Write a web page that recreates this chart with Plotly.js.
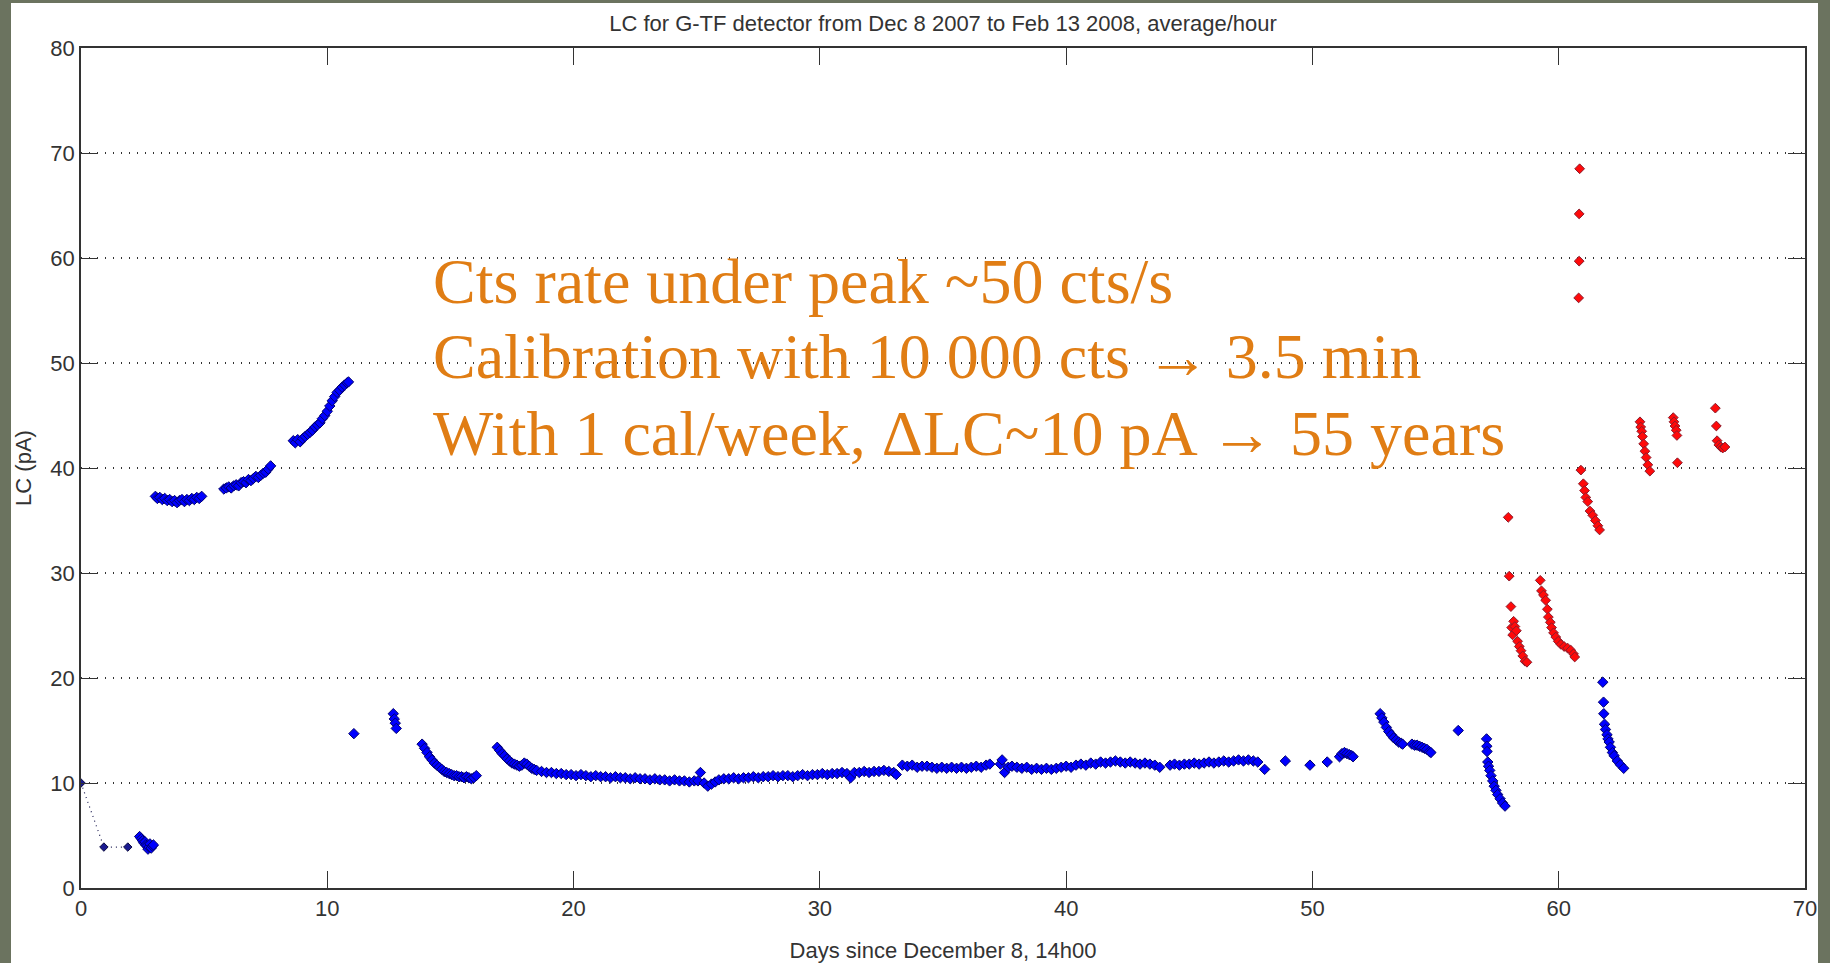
<!DOCTYPE html>
<html>
<head>
<meta charset="utf-8">
<script src="https://cdn.plot.ly/plotly-3.0.1.min.js"></script>
<style>
  html, body { margin:0; padding:0; width:1830px; height:963px; overflow:hidden; background:#6b735f; }
  #chart { position:absolute; left:11px; top:3px; width:1807px; height:960px; background:#fff; }
</style>
</head>
<body>
<div id="chart"></div>
<script>
// ---------- text ----------
const chartTitle = "LC for G-TF detector from Dec 8 2007 to Feb 13 2008, average/hour";
const xAxisTitle = "Days since December 8, 14h00";
const yAxisTitle = "LC (pA)";
const noteLines = [
  "Cts rate under peak ~50 cts/s",
  "Calibration with 10 000 cts \u2192 3.5 min",
  "With 1 cal/week, \u0394LC~10 pA \u2192 55 years"
];
const xTicks = [0, 10, 20, 30, 40, 50, 60, 70];
const yTicks = [0, 10, 20, 30, 40, 50, 60, 70, 80];

// ---------- early daily values (dotted) ----------
const earlyX = [0, 0.93, 1.9];
const earlyY = [10.0, 3.9, 3.9];

// ---------- blue: hourly averages ----------
const segB_x = [2.38,2.45,2.5,2.55,2.6,2.63,2.67,2.72,2.76,2.8,2.85,2.9,2.94];
const segB_y = [4.9,4.7,4.5,4.3,4.4,4.1,4.0,3.7,3.9,4.2,3.8,4.0,4.1];

const segC_x = [3.02,3.1,3.2,3.3,3.4,3.5,3.6,3.7,3.8,3.9,4.0,4.1,4.2,4.3,4.4,4.5,4.6,4.7,4.8,4.9];
const segC_y = [37.3,37.1,37.2,37.0,37.1,36.9,37.0,36.8,36.9,36.7,36.9,37.0,36.8,37.0,36.9,37.1,37.0,37.2,37.1,37.3];

const segD_x = [5.8,5.9,6.0,6.1,6.2,6.3,6.4,6.5,6.6,6.7,6.8,6.9,7.0,7.1,7.2,7.3,7.4,7.5,7.6,7.7];
const segD_y = [38.0,38.1,38.2,38.1,38.3,38.4,38.3,38.6,38.7,38.6,38.9,38.8,39.0,39.2,39.1,39.3,39.5,39.6,39.9,40.2];

const segE_x = [8.62,8.7,8.8,8.9,9.0,9.1,9.2,9.3,9.4,9.5,9.6,9.7,9.8,9.9,10.0,10.1,10.2,10.3,10.4,10.5,10.6,10.7,10.8,10.86];
const segE_y = [42.6,42.4,42.7,42.5,42.8,43.0,43.2,43.4,43.6,43.9,44.1,44.3,44.7,45.0,45.4,45.9,46.4,46.8,47.2,47.4,47.7,47.9,48.1,48.2];

const segF_x = [11.08, 12.68, 12.72, 12.76, 12.8];
const segF_y = [14.7, 16.6, 16.1, 15.7, 15.2];

const segH_x = [13.85,13.95,14.05,14.15,14.25,14.35,14.45,14.55,14.65,14.75,14.85,14.95,15.05,15.15,15.25,15.35,15.45,15.55,15.65,15.75,15.85,15.95,16.05];
const segH_y = [13.7,13.3,12.9,12.5,12.2,11.9,11.7,11.5,11.3,11.1,11.0,10.9,10.8,10.7,10.7,10.6,10.6,10.5,10.6,10.5,10.4,10.5,10.7];

const segI_x = [16.9,17.0,17.1,17.2,17.3,17.4,17.5,17.6,17.7,17.8,17.9,18.0,18.1,18.2,18.3,18.4,18.5,18.7,18.9,19.1,
  19.3,19.5,19.7,19.9,20.1,20.3,20.5,20.7,20.9,21.1,21.3,21.5,21.7,21.9,22.1,22.3,22.5,22.7,22.9,23.1,
  23.3,23.5,23.7,23.9,24.1,24.3,24.5,24.7,24.9,25.05,25.15,25.3,25.45,25.6,25.75,25.9,26.1,26.3,26.5,26.7,
  26.9,27.1,27.3,27.5,27.7,27.9,28.1,28.3,28.5,28.7,28.9,29.1,29.3,29.5,29.7,29.9,30.1,30.3,30.5,30.7,
  30.9,31.1,31.25,31.4,31.6,31.8,32.0,32.2,32.4,32.6,32.8,33.0,33.1];
const segI_y = [13.4,13.1,12.8,12.6,12.3,12.1,11.9,11.8,11.7,11.6,11.7,11.9,11.8,11.6,11.4,11.3,11.2,11.1,11.0,11.0,
  10.9,10.9,10.8,10.8,10.7,10.8,10.7,10.6,10.7,10.6,10.6,10.5,10.6,10.5,10.5,10.4,10.5,10.4,10.4,10.3,
  10.4,10.3,10.3,10.2,10.3,10.2,10.2,10.1,10.2,10.2,11.0,10.0,9.7,9.9,10.1,10.3,10.4,10.4,10.5,10.4,
  10.5,10.5,10.6,10.5,10.6,10.6,10.7,10.6,10.7,10.7,10.6,10.7,10.8,10.7,10.8,10.8,10.9,10.8,10.9,10.9,
  11.0,10.9,10.5,11.0,11.0,11.1,11.0,11.1,11.1,11.2,11.1,11.0,10.8];

const segJ_x = [33.35,33.55,33.75,33.95,34.15,34.35,34.55,34.75,34.95,35.15,35.35,35.55,35.75,35.95,36.15,36.35,36.55,36.75,36.9];
const segJ_y = [11.7,11.6,11.7,11.5,11.6,11.6,11.5,11.4,11.5,11.4,11.5,11.4,11.5,11.4,11.5,11.6,11.5,11.7,11.8];

const segK_x = [37.33,37.4,37.5,37.65,37.8,38.0,38.2,38.4,38.6,38.8,39.0,39.2,39.4,39.6,39.8,40.0,40.2,40.4,40.6,40.8,
  41.0,41.2,41.4,41.6,41.8,42.0,42.2,42.4,42.6,42.8,43.0,43.2,43.4,43.6,43.8];
const segK_y = [11.8,12.2,11.0,11.5,11.6,11.5,11.4,11.5,11.3,11.4,11.3,11.4,11.3,11.4,11.5,11.6,11.5,11.7,11.8,11.7,
  11.9,11.8,12.0,11.9,12.0,12.1,12.0,11.9,12.0,11.9,11.8,11.9,11.8,11.7,11.5];

const segL_x = [44.22,44.4,44.6,44.8,45.0,45.2,45.4,45.6,45.8,46.0,46.2,46.4,46.6,46.8,47.0,47.2,47.4,47.6,47.78];
const segL_y = [11.7,11.8,11.7,11.8,11.8,11.9,11.8,11.9,12.0,11.9,12.0,12.1,12.0,12.1,12.2,12.1,12.2,12.1,12.0];

const segM_x = [48.06,48.9,49.9,50.6,51.1,51.2,51.3,51.4,51.5,51.6,51.65];
const segM_y = [11.3,12.1,11.7,12.0,12.5,12.8,12.9,12.8,12.7,12.6,12.5];

const segO_x = [52.75,52.82,52.9,53.0,53.1,53.2,53.3,53.4,53.5,53.6,53.66,54.04,54.15,54.25,54.35,54.45,54.55,54.65,54.75,54.81,55.92];
const segO_y = [16.6,16.2,15.8,15.3,14.9,14.6,14.3,14.1,13.9,13.8,13.7,13.7,13.6,13.6,13.5,13.4,13.3,13.2,13.0,12.9,15.0];

const segR_x = [57.07,57.08,57.09,57.12,57.15,57.2,57.25,57.32,57.38,57.45,57.52,57.62,57.72,57.82];
const segR_y = [14.2,13.5,13.0,12.0,11.6,11.2,10.7,10.2,9.7,9.3,8.9,8.5,8.1,7.8];

const segS_x = [61.79,61.82,61.83,61.86,61.9,61.96,62.0,62.05,62.1,62.18,62.25,62.38,62.5,62.64];
const segS_y = [19.6,17.7,16.6,15.6,15.1,14.6,14.2,13.9,13.4,12.9,12.6,12.1,11.75,11.4];

// ---------- red: after the change ----------
const red1_x = [57.95,57.99,58.06,58.09,58.13,58.17,58.22,58.28,58.33,58.4,58.47,58.54,58.63,58.71];
const red1_y = [35.3,29.7,26.8,24.8,24.1,25.4,24.9,24.5,23.5,23.0,22.6,22.1,21.6,21.5];
const red2_x = [59.25,59.3,59.38,59.47,59.54,59.58,59.66,59.71,59.79,59.88,59.98,60.09,60.22,60.36,60.49,60.6,60.65];
const red2_y = [29.3,28.3,27.9,27.4,26.55,25.8,25.3,24.8,24.3,23.9,23.5,23.2,23.0,22.85,22.65,22.3,22.0];
const red3_x = [60.85,60.83,60.83,60.81];
const red3_y = [68.5,64.2,59.7,56.2];
const red4_x = [60.9,61.0,61.05,61.1,61.18,61.27,61.38,61.49,61.59,61.66];
const red4_y = [39.8,38.5,37.85,37.2,36.8,35.9,35.5,35.0,34.5,34.1];
const red5_x = [63.3,63.33,63.37,63.4,63.45,63.5,63.55,63.62,63.7];
const red5_y = [44.4,43.9,43.5,43.0,42.3,41.6,41.0,40.3,39.7];
const red6_x = [64.65,64.68,64.72,64.77,64.8,64.82];
const red6_y = [44.8,44.4,44.0,43.6,43.1,40.5];
const red7_x = [66.36,66.4,66.43,66.5,66.58,66.66,66.75];
const red7_y = [45.7,44.0,42.6,42.2,42.0,41.9,42.0];

// ---------- build traces ----------
const blueX = [].concat(segB_x, segC_x, segD_x, segE_x, segF_x, segH_x, segI_x, segJ_x, segK_x, segL_x, segM_x, segO_x, segR_x, segS_x);
const blueY = [].concat(segB_y, segC_y, segD_y, segE_y, segF_y, segH_y, segI_y, segJ_y, segK_y, segL_y, segM_y, segO_y, segR_y, segS_y);
const redX = [].concat(red1_x, red2_x, red3_x, red4_x, red5_x, red6_x, red7_x);
const redY = [].concat(red1_y, red2_y, red3_y, red4_y, red5_y, red6_y, red7_y);

const sansFont = 'Liberation Sans, Arial, Helvetica, sans-serif';

const traces = [
  {
    x: earlyX, y: earlyY, type: 'scatter', mode: 'lines+markers',
    line: { color: '#1a1a50', width: 1.2, dash: '1px,4px' },
    marker: { symbol: 'diamond', size: 6.5, color: '#1a1a90', line: { color: '#0a0a40', width: 1 } },
    hoverinfo: 'x+y'
  },
  {
    x: blueX, y: blueY, type: 'scatter', mode: 'markers',
    marker: { symbol: 'diamond', size: 8, color: '#0000ff', line: { color: '#00006e', width: 1 } },
    hoverinfo: 'x+y'
  },
  {
    x: redX, y: redY, type: 'scatter', mode: 'markers',
    marker: { symbol: 'diamond', size: 7.5, color: '#ff0a0a', line: { color: '#8a1c2c', width: 1 } },
    hoverinfo: 'x+y'
  }
];

const noteY = [57.8, 50.6, 43.3];
const annotations = noteLines.map((t, i) => ({
  x: 14.22, y: noteY[i], xref: 'x', yref: 'y',
  xanchor: 'left', yanchor: 'middle', showarrow: false,
  text: t,
  font: { family: 'Liberation Serif, Times New Roman, serif', size: 64, color: '#e07d14' }
}));

const axisCommon = {
  ticks: 'inside', ticklen: 17, tickwidth: 1, tickcolor: '#333',
  showline: true, linecolor: '#333', linewidth: 1.5, mirror: 'ticks',
  zeroline: false, automargin: false,
  tickfont: { family: sansFont, size: 22, color: '#333' },
  fixedrange: true
};

const layout = {
  width: 1807, height: 960,
  margin: { l: 70, r: 13, t: 45, b: 75, pad: 0 },
  paper_bgcolor: '#ffffff', plot_bgcolor: '#ffffff',
  showlegend: false,
  title: {
    text: chartTitle,
    font: { family: sansFont, size: 22, color: '#333' },
    x: 0.5, xref: 'paper', xanchor: 'center',
    y: 0.979, yref: 'container', yanchor: 'middle'
  },
  xaxis: Object.assign({}, axisCommon, {
    range: [0, 70], tickvals: xTicks, ticktext: xTicks.map(String),
    showgrid: false,
    title: { text: xAxisTitle, font: { family: sansFont, size: 22, color: '#333' }, standoff: 25 }
  }),
  yaxis: Object.assign({}, axisCommon, {
    range: [0, 80], tickvals: yTicks, ticktext: yTicks.map(String),
    showgrid: true, gridcolor: '#333', gridwidth: 1.5, griddash: '1px,7px',
    title: { text: yAxisTitle, font: { family: sansFont, size: 22, color: '#333' }, standoff: 13 }
  }),
  annotations: annotations
};

Plotly.newPlot('chart', traces, layout, { displayModeBar: false, responsive: false });
</script>
</body>
</html>
